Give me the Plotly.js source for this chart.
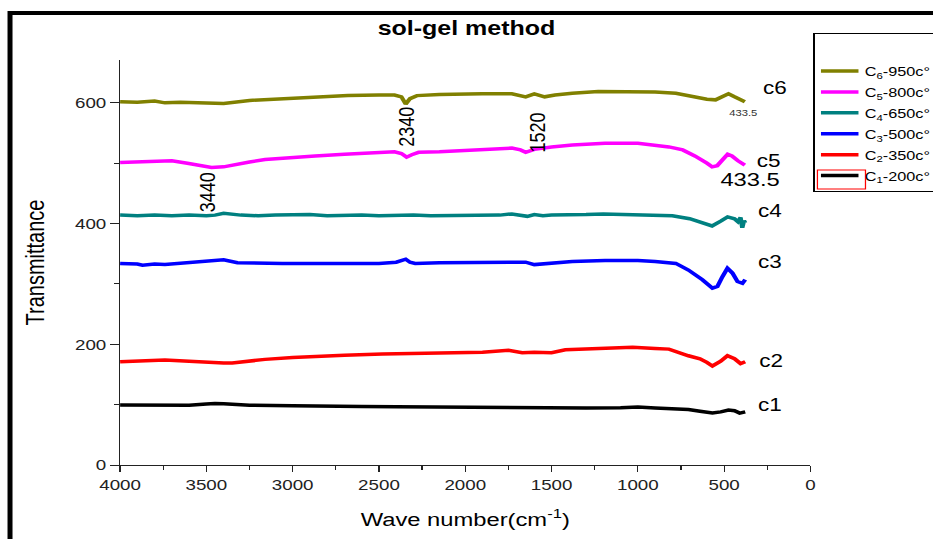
<!DOCTYPE html>
<html><head><meta charset="utf-8">
<script src="https://cdn.plot.ly/plotly-3.0.1.min.js"></script>
<style>
html,body{margin:0;padding:0;overflow:hidden;background:#fff;}
#wrap{width:933px;height:539px;overflow:hidden;position:relative;}
#chart{width:746px;height:539px;transform:scaleX(1.2507);transform-origin:0 0;}
</style></head>
<body><div id="wrap"><div id="chart"></div></div>
<script>
// ---- data (wavenumber cm^-1, transmittance) ----
var seriesNames = ["C<sub>1</sub>-200c°", "C<sub>2</sub>-350c°", "C<sub>3</sub>-500c°", "C<sub>4</sub>-650c°", "C<sub>5</sub>-800c°", "C<sub>6</sub>-950c°"];
var seriesColors = ["#000000", "#ff0000", "#0000ff", "#008080", "#ff00ff", "#808000"];

var wn_c1 = [4000, 3800, 3740, 3600, 3500, 3450, 3400, 3300, 3250, 3000, 2800, 2600, 2400, 2020, 1800, 1650, 1500, 1300, 1100, 1000, 900, 800, 707, 640, 568, 520, 475, 440, 410, 378];
var t_c1  = [99.5, 99, 98, 99, 101, 102, 101.5, 100, 99, 98, 97, 97, 96.5, 95.5, 95, 94, 94, 94.5, 95, 96, 94.5, 93, 92, 89, 86, 88, 91, 90, 86, 88];

var wn_c2 = [4000, 3850, 3740, 3600, 3500, 3400, 3350, 3160, 3000, 2870, 2700, 2480, 2300, 2020, 1900, 1750, 1670, 1600, 1500, 1420, 1300, 1188, 1030, 900, 820, 707, 640, 600, 568, 520, 481, 440, 405, 378];
var t_c2  = [171, 172, 174, 172, 170, 169, 169, 175, 178, 180, 182, 184, 185, 186, 187, 190, 186, 187, 186, 191, 192, 193, 195, 193, 192, 181, 176, 170, 164, 172, 181, 176, 168, 171];

var wn_c3 = [4000, 3900, 3870, 3800, 3740, 3650, 3550, 3450, 3400, 3320, 3200, 3060, 2900, 2700, 2500, 2400, 2360, 2345, 2320, 2290, 2150, 2020, 1900, 1750, 1650, 1600, 1500, 1380, 1190, 1000, 900, 780, 707, 626, 568, 539, 510, 481, 452, 423, 394, 378];
var t_c3  = [334, 333, 331, 333, 332, 334, 337, 339, 340, 335, 334, 334, 334, 334, 334, 336, 339, 341, 336, 334, 335, 335, 335, 336, 336, 332, 334, 337, 339, 339, 337, 334, 323, 307, 293, 296, 312, 326, 318, 304, 301, 307];

var wn_c4 = [4000, 3900, 3800, 3700, 3600, 3500, 3450, 3400, 3300, 3200, 3100, 3000, 2900, 2800, 2700, 2600, 2500, 2400, 2340, 2300, 2200, 2100, 2000, 1900, 1800, 1730, 1680, 1640, 1600, 1550, 1500, 1400, 1300, 1200, 1100, 1000, 900, 800, 700, 620, 570, 520, 480, 440, 420, 405, 395, 385, 378];
var t_c4  = [414, 413, 414, 413, 414, 413, 414, 417, 414, 413, 414, 414, 415, 413, 414, 414, 413, 414, 415, 414, 413, 413, 414, 413, 414, 416, 413, 412, 415, 413, 414, 414, 415, 416, 415, 414, 414, 413, 408, 400, 396, 404, 411, 408, 403, 410, 393, 405, 401];

var wn_c5 = [4000, 3850, 3700, 3610, 3540, 3470, 3400, 3350, 3250, 3160, 3000, 2870, 2700, 2580, 2410, 2370, 2340, 2310, 2270, 2150, 2020, 1900, 1730, 1680, 1650, 1600, 1500, 1380, 1190, 1000, 900, 820, 740, 670, 600, 570, 540, 500, 480, 455, 420, 380];
var t_c5  = [501, 502, 504, 500, 496, 493, 494, 497, 502, 506, 510, 512, 515, 517, 519, 516, 510, 514, 518, 519, 521, 522, 525, 522, 518, 523, 527, 530, 533, 533, 530, 527, 522, 512, 500, 494, 496, 508, 515, 512, 504, 497];

var wn_c6 = [4000, 3900, 3800, 3740, 3650, 3500, 3400, 3250, 3100, 2970, 2800, 2680, 2500, 2410, 2370, 2345, 2320, 2280, 2150, 2020, 1900, 1730, 1680, 1650, 1600, 1540, 1480, 1380, 1230, 1100, 1000, 900, 780, 670, 600, 550, 510, 475, 440, 400, 380];
var t_c6  = [602, 601, 603, 600, 601, 599, 599, 604, 606, 609, 611, 612, 613, 613, 610, 598, 607, 612, 614, 615, 615, 615, 612, 610, 615, 610, 613, 616, 619, 619, 619, 618, 616, 610, 606, 605, 611, 615, 610, 605, 602];

var xTickVals = [4000, 3500, 3000, 2500, 2000, 1500, 1000, 500, 0];
var yTickVals = [0, 200, 400, 600];

var curveLabels = ["c1", "c2", "c3", "c4", "c5", "c6"];
var peakLabels = ["3440", "2340", "1520", "433.5", "433.5"];

// ---- build ----
var wns = [wn_c1, wn_c2, wn_c3, wn_c4, wn_c5, wn_c6];
var ts = [t_c1, t_c2, t_c3, t_c4, t_c5, t_c6];
var traces = wns.map(function (w, i) {
  return {
    x: w, y: ts[i], type: "scatter", mode: "lines", name: seriesNames[i],
    legendgroup: "g" + i, legendrank: 100 - i,
    line: { color: seriesColors[i], width: 3.5 }
  };
});

var F = "Arial, 'Liberation Sans', sans-serif";
var curveLabelPos = [[232, 99.5], [226, 172], [232, 336.5], [232, 421], [243, 504], [203, 625]];
var annotations = curveLabels.map(function (t, i) {
  return { text: t, x: curveLabelPos[i][0], y: curveLabelPos[i][1], xref: "x", yref: "y",
    showarrow: false, font: { family: F, size: 18, color: "#000" } };
});
annotations.push({ text: peakLabels[0], x: 3496, y: 451, textangle: -90, showarrow: false, font: { family: F, size: 18, color: "#000" } });
annotations.push({ text: peakLabels[1], x: 2342, y: 560, textangle: -90, showarrow: false, font: { family: F, size: 18, color: "#000" } });
annotations.push({ text: peakLabels[2], x: 1583, y: 550, textangle: -90, showarrow: false, font: { family: F, size: 18, color: "#000" } });
annotations.push({ text: peakLabels[3], x: 388, y: 583, showarrow: false, font: { family: F, size: 9, color: "#333" } });
annotations.push({ text: peakLabels[4], x: 348, y: 473, showarrow: false, font: { family: F, size: 19, color: "#000" } });

var layout = {
  width: 746, height: 539,
  margin: { l: 96, r: 98, t: 60, b: 74, autoexpand: false },
  paper_bgcolor: "#fff", plot_bgcolor: "#fff",
  title: { text: "<b>sol-gel method</b>", font: { family: F, size: 20, color: "#000" },
    x: 0.5, xref: "container", y: 1 - 28 / 539, yref: "container", yanchor: "middle" },
  xaxis: {
    range: [4000, 0], tickvals: xTickVals, ticks: "outside", ticklen: 6, tickwidth: 1, tickcolor: "#222",
    showline: true, linecolor: "#222", linewidth: 1, showgrid: false, zeroline: false, automargin: false,
    minor: { dtick: 250, tick0: 0, ticks: "outside", ticklen: 4, tickcolor: "#222", showgrid: false },
    tickfont: { family: F, size: 15, color: "#222" },
    title: { text: "Wave number(cm<sup>-1</sup>)", font: { family: F, size: 19, color: "#000" }, standoff: 20 }
  },
  yaxis: {
    range: [0, 671], tickvals: yTickVals, ticks: "outside", ticklen: 7, tickwidth: 1, tickcolor: "#222",
    showline: true, linecolor: "#222", linewidth: 1, showgrid: false, zeroline: false, automargin: false,
    minor: { dtick: 100, tick0: 0, ticks: "outside", ticklen: 4, tickcolor: "#222", showgrid: false },
    tickfont: { family: F, size: 15, color: "#222" },
    title: { text: "Transmittance", font: { family: F, size: 20, color: "#000" }, standoff: 18 }
  },
  showlegend: true,
  legend: {
    x: (650.4 - 96) / 552, y: (465 - 33) / 405, xanchor: "left", yanchor: "top",
    bordercolor: "#000", borderwidth: 1, bgcolor: "rgba(255,255,255,0)",
    font: { family: F, size: 13, color: "#000" }, traceorder: "grouped", tracegroupgap: 1,
    itemwidth: 30,
    title: { text: "&nbsp;", font: { size: 17 } }
  },
  annotations: annotations,
  shapes: [
    { type: "line", xref: "paper", yref: "paper", x0: -0.1594, x1: -0.1594, y0: -0.3, y1: 1.121, line: { color: "#000", width: 4 } },
    { type: "line", xref: "paper", yref: "paper", x0: -0.1594, x1: 1.4, y0: 1.116, y1: 1.116, line: { color: "#000", width: 4 } },
    { type: "rect", xref: "paper", yref: "paper", x0: 1.0101, x1: 1.0797, y0: 0.6815, y1: 0.7284, line: { color: "#ff0000", width: 1 } }
  ]
};

Plotly.newPlot("chart", traces, layout, { staticPlot: true, displayModeBar: false });
</script>
</body></html>
